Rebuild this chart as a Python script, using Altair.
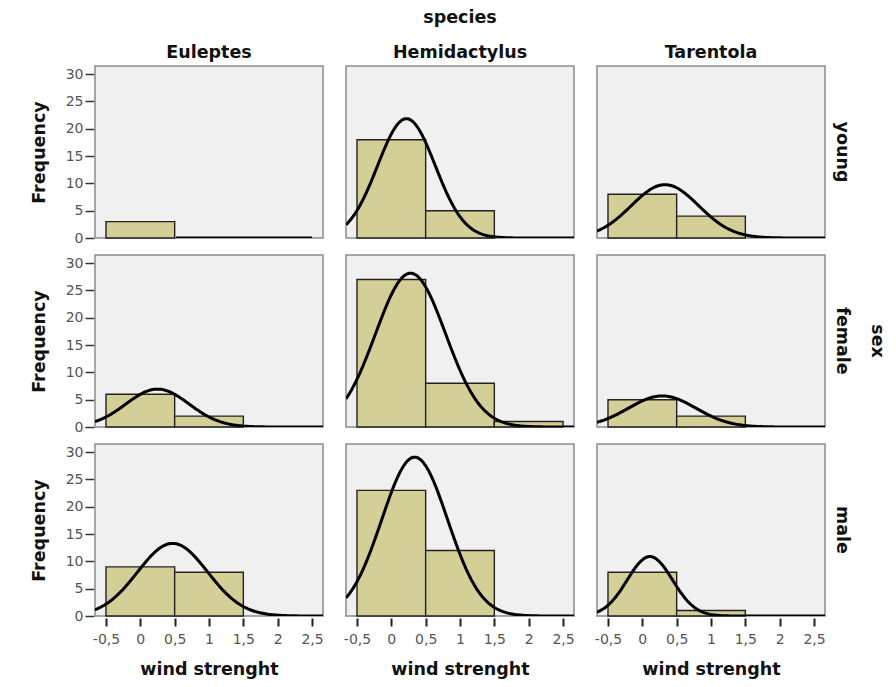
import altair as alt
import pandas as pd

species = ["Euleptes", "Hemidactylus", "Tarentola"]
sexes = ["young", "female", "male"]
bin_starts = [-0.5, 0.5, 1.5]
bin_ends = [0.5, 1.5, 2.5]

# frequencies per bin (species -> sex -> counts)
counts_euleptes = {"young": [3, 0, 0], "female": [6, 2, 0], "male": [9, 8, 0]}
counts_hemidactylus = {"young": [18, 5, 0], "female": [27, 8, 1], "male": [23, 12, 0]}
counts_tarentola = {"young": [8, 4, 0], "female": [5, 2, 0], "male": [8, 1, 0]}

# fitted normal curve parameters (mean, std. dev.) per panel
mean_euleptes = {"young": 0.0, "female": 0.25, "male": 0.47}
sd_euleptes = {"young": 0.0, "female": 0.46, "male": 0.51}
mean_hemidactylus = {"young": 0.22, "female": 0.28, "male": 0.34}
sd_hemidactylus = {"young": 0.42, "female": 0.51, "male": 0.48}
mean_tarentola = {"young": 0.33, "female": 0.29, "male": 0.11}
sd_tarentola = {"young": 0.49, "female": 0.49, "male": 0.33}

y_ticks = [0, 5, 10, 15, 20, 25, 30]
x_ticks = [-0.5, 0, 0.5, 1, 1.5, 2, 2.5]

counts_all = {"Euleptes": counts_euleptes, "Hemidactylus": counts_hemidactylus, "Tarentola": counts_tarentola}
means_all = {"Euleptes": mean_euleptes, "Hemidactylus": mean_hemidactylus, "Tarentola": mean_tarentola}
sds_all = {"Euleptes": sd_euleptes, "Hemidactylus": sd_hemidactylus, "Tarentola": sd_tarentola}

rows = []
for sp in species:
    for sx in sexes:
        c = counts_all[sp][sx]
        for i in range(len(bin_starts)):
            rows.append({
                "species": sp, "sex": sx, "bin_idx": i,
                "bin_start": bin_starts[i], "bin_end": bin_ends[i],
                "count": c[i], "n": sum(c),
                "mean": means_all[sp][sx], "sd": sds_all[sp][sx],
            })
df = pd.DataFrame(rows)

FONT = "DejaVu Sans"
XDOM = [-0.66, 2.66]
YDOM = [0, 31.5]

xaxis = alt.Axis(
    values=x_ticks, labelExpr="replace(toString(datum.value), '.', ',')",
    title="wind strenght", grid=False, domain=False,
    tickSize=8, tickWidth=2, tickColor="#222",
    labelFont=FONT, labelFontSize=14, labelColor="#555", labelPadding=6,
    titleFont=FONT, titleFontSize=17.5, titleFontWeight="bold", titleColor="#111",
    titlePadding=14, labelFlush=False, labelOverlap=False,
)
yaxis = alt.Axis(
    values=y_ticks, title="Frequency", grid=False, domain=False,
    tickSize=9, tickWidth=1.5, tickColor="#333",
    labelFont=FONT, labelFontSize=14, labelColor="#555", labelPadding=2,
    titleFont=FONT, titleFontSize=17.5, titleFontWeight="bold", titleColor="#111",
    titlePadding=17, labelFlush=False, labelOverlap=False,
)
xscale = alt.Scale(domain=XDOM, nice=False, zero=False)
yscale = alt.Scale(domain=YDOM, nice=False)

base = alt.Chart()

bars = base.transform_filter("datum.count > 0").mark_rect(
    fill="#d4cf97", stroke="#222222", strokeWidth=1.4
).encode(
    x=alt.X("bin_start:Q", scale=xscale, axis=xaxis),
    x2="bin_end:Q",
    y=alt.Y("count:Q", scale=yscale, axis=yaxis),
    y2=alt.datum(0),
)

curve = base.transform_filter("datum.bin_idx == 0").transform_calculate(
    xs="sequence(-0.66, 2.67, 0.02)"
).transform_flatten(["xs"]).transform_filter(
    "datum.sd > 0 || (datum.xs >= 0.5 && datum.xs <= 2.5)"
).transform_calculate(
    dens="datum.sd > 0 ? datum.n * exp(-0.5 * pow((datum.xs - datum.mean) / datum.sd, 2)) / (datum.sd * sqrt(2 * PI)) : 0"
).mark_line(color="black", strokeWidth=3, clip=True).encode(
    x=alt.X("xs:Q", scale=xscale, axis=xaxis),
    y=alt.Y("dens:Q", scale=yscale, axis=yaxis),
    order="xs:Q",
)

layered = alt.layer(bars, curve, data=df).properties(width=228, height=172)

chart = layered.facet(
    column=alt.Column(
        "species:N", sort=species,
        header=alt.Header(
            title="species", titleFont=FONT, titleFontSize=17.5, titleFontWeight="bold",
            titleColor="#111", titlePadding=7,
            labelFont=FONT, labelFontSize=17.5, labelFontWeight="bold", labelColor="#111",
            labelPadding=4,
        ),
    ),
    row=alt.Row(
        "sex:N", sort=sexes,
        header=alt.Header(
            title="sex", titleOrient="right", titleAngle=90,
            titleFont=FONT, titleFontSize=17.5, titleFontWeight="bold", titleColor="#111",
            titlePadding=7,
            labelOrient="right", labelAngle=90,
            labelFont=FONT, labelFontSize=17.5, labelFontWeight="bold", labelColor="#111",
            labelPadding=7,
        ),
    ),
    spacing={"row": 14, "column": 21},
).configure_view(
    fill="#f0f0f0", stroke="#8a8a8a", strokeWidth=1.5
).properties(
    padding={"left": 30, "top": 8, "right": 5, "bottom": 5},
    background="white",
)

chart.save("out.html", embed_options={"renderer": "svg", "actions": False})
